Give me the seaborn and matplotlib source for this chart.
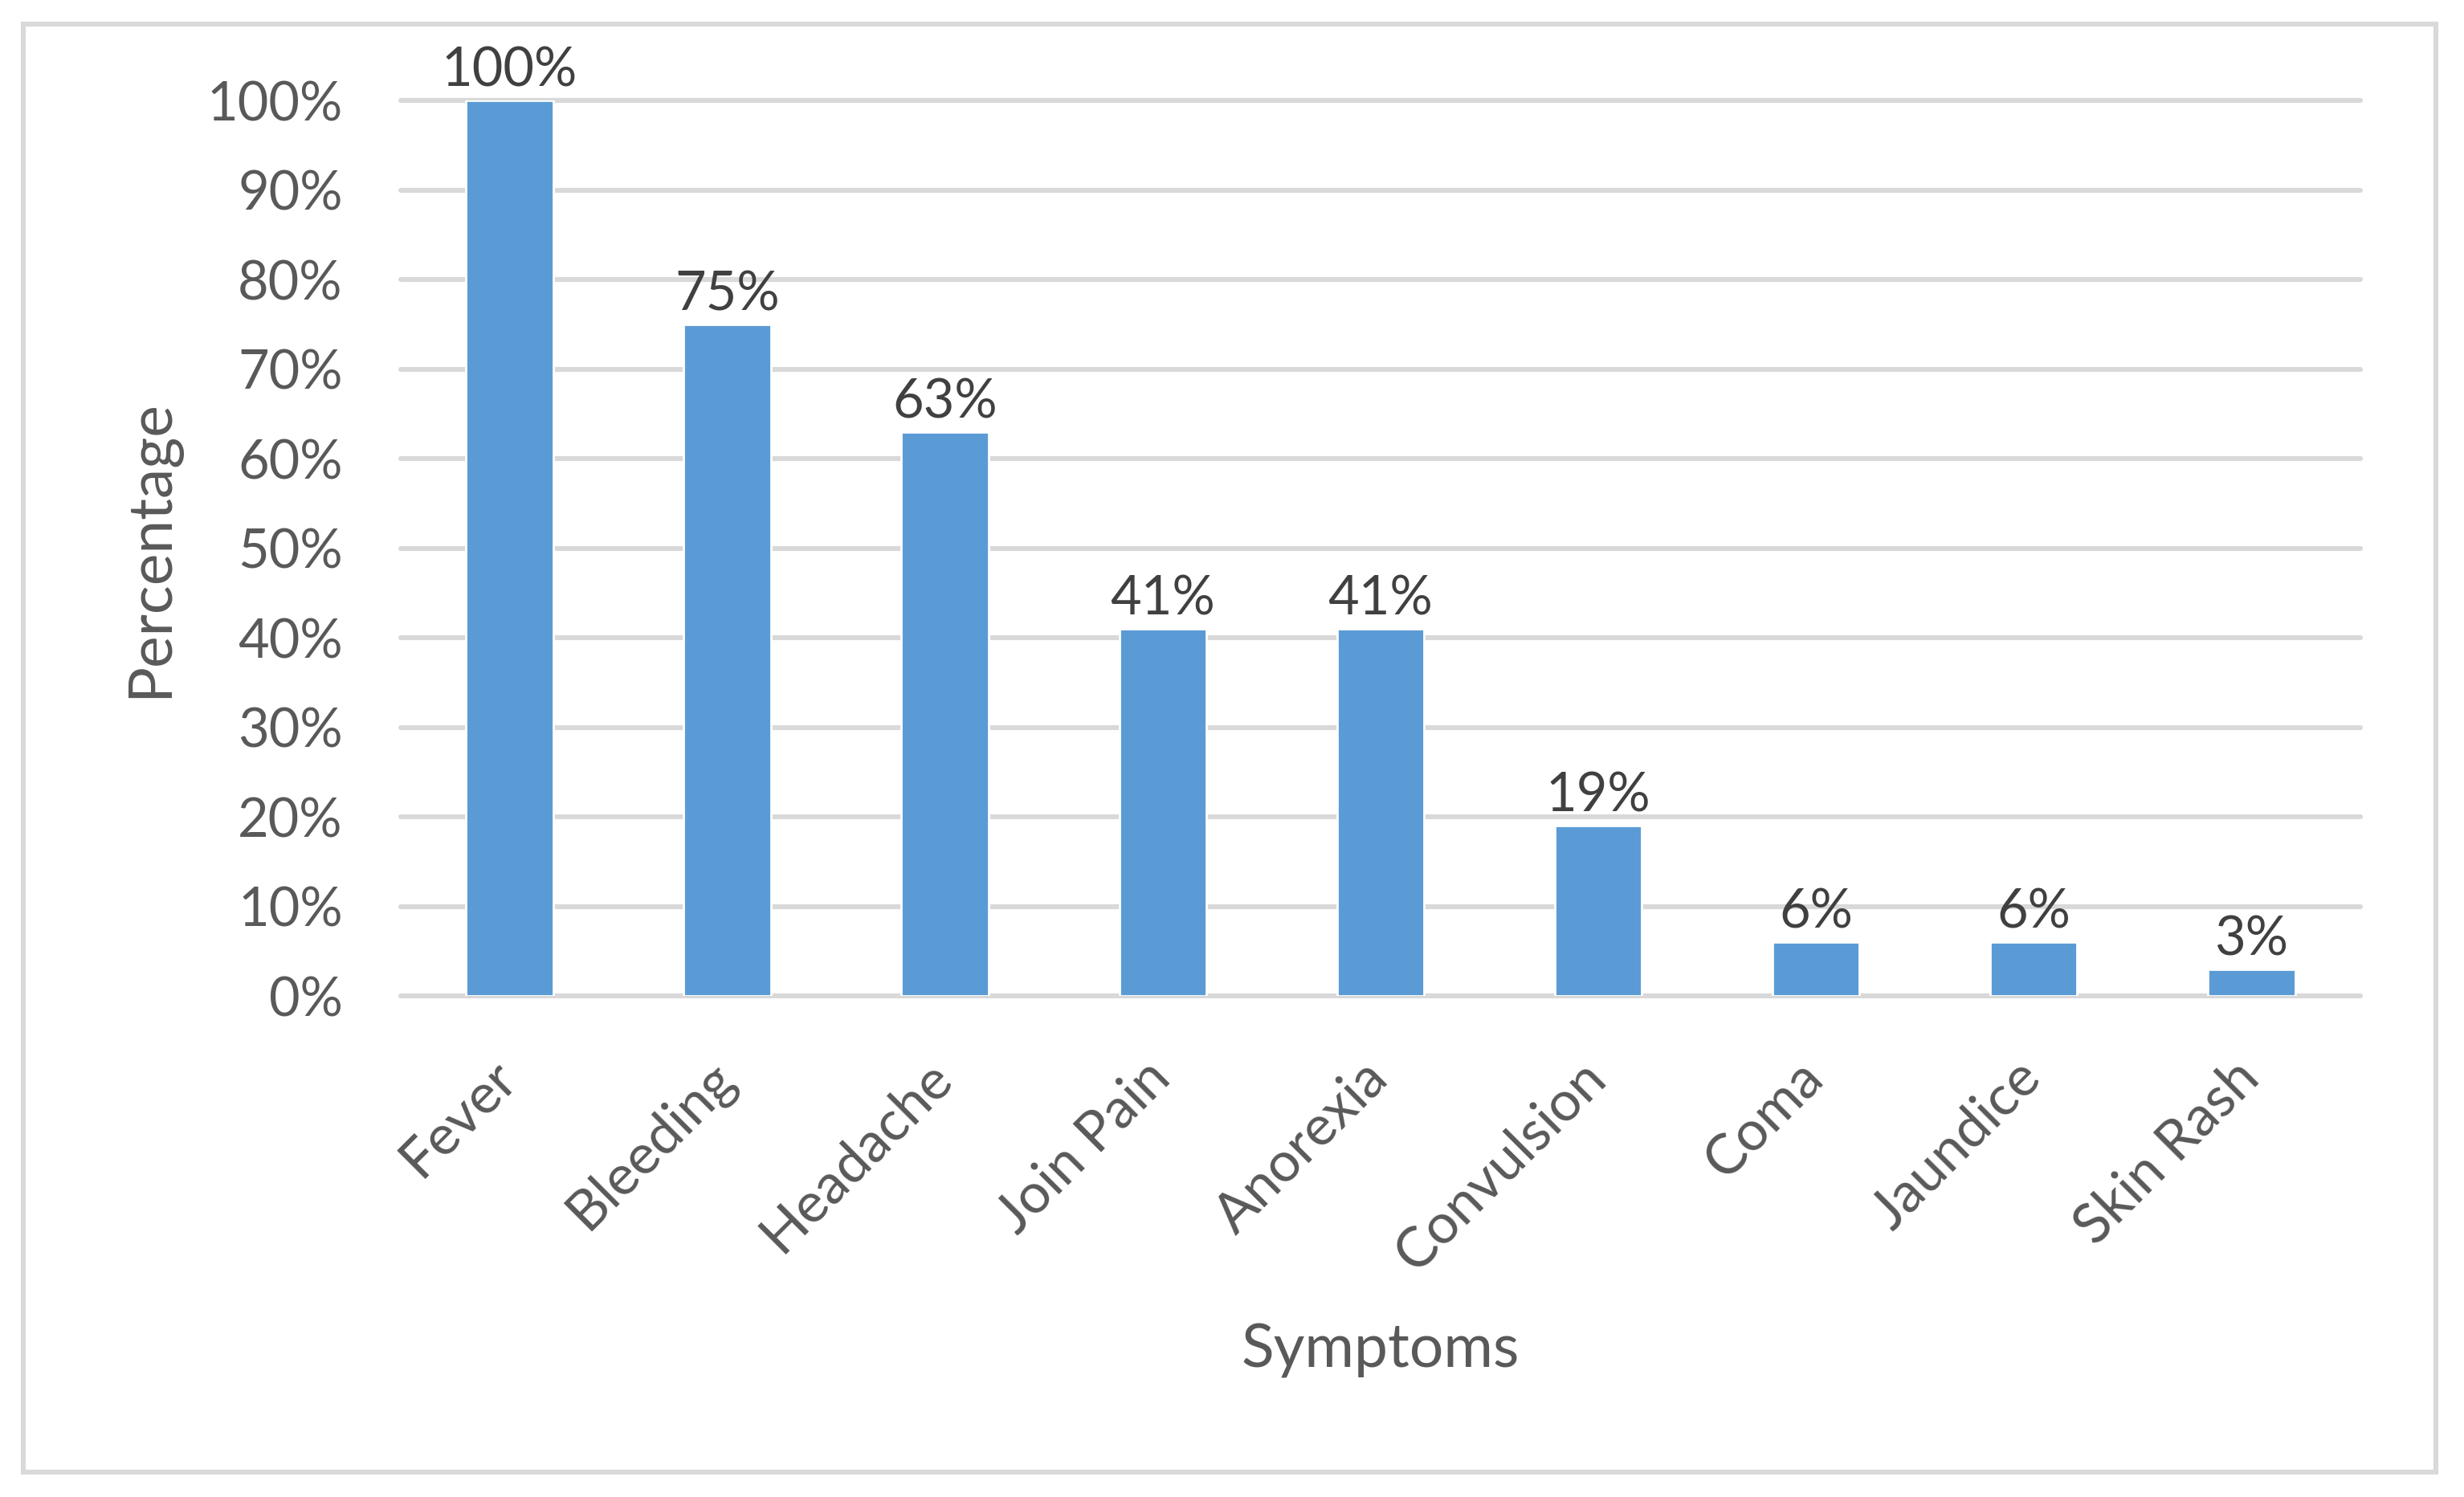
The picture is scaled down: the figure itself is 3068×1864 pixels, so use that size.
import matplotlib
matplotlib.use("Agg")
import matplotlib.pyplot as plt
import matplotlib.transforms as mtransforms
from matplotlib.patches import Rectangle
import seaborn as sns
import pandas as pd

# chart values
symptoms = ["Fever", "Bleeding", "Headache", "Join Pain", "Anorexia",
            "Convulsion", "Coma", "Jaundice", "Skin Rash"]
percent = [100, 75, 63, 41, 41, 19, 6, 6, 3]
y_ticks = [0, 10, 20, 30, 40, 50, 60, 70, 80, 90, 100]

df = pd.DataFrame({"Symptoms": symptoms, "Percentage": percent})

sns.set_style("white")
plt.rcParams["font.family"] = ["Lato", "DejaVu Sans"]

fig = plt.figure(figsize=(15.34, 9.32), dpi=200)
ax = fig.add_axes([0.1626, 0.3347, 0.7953, 0.5981])

sns.barplot(data=df, x="Symptoms", y="Percentage", color="#5B9BD5",
            width=0.40, saturation=1, ax=ax)

ax.set_ylim(0, 100)
ax.set_xlim(-0.5, len(symptoms) - 0.5)
ax.set_yticks(y_ticks)
ax.set_yticklabels([f"{v}%" for v in y_ticks])
ax.set_axisbelow(True)
ax.yaxis.grid(True, color="#D9D9D9", linewidth=2.2)
for gl in ax.get_ygridlines():
    gl.set_clip_on(False)
ax.xaxis.grid(False)
sns.despine(ax=ax, left=True, bottom=True)
ax.tick_params(axis="both", length=0, labelsize=24, labelcolor="#595959")
ax.tick_params(axis="y", pad=26)

# rotated category labels
ax.tick_params(axis="x", pad=0, labelsize=25)
offset = mtransforms.ScaledTranslation(-0.5 / 72, -33 / 72, fig.dpi_scale_trans)
for lbl in ax.get_xticklabels():
    lbl.set_rotation(45)
    lbl.set_ha("right")
    lbl.set_va("center")
    lbl.set_rotation_mode("anchor")
    lbl.set_transform(lbl.get_transform() + offset)

ax.bar_label(ax.containers[0], labels=[f"{v}%" for v in percent],
             padding=2, fontsize=24, color="#404040")

ax.set_xlabel("Symptoms", fontsize=27, color="#595959", va="center")
ax.set_ylabel("Percentage", fontsize=27, color="#595959", va="center")
ax.xaxis.set_label_coords(0.5, -0.396)
ax.yaxis.set_label_coords(-0.127, 0.5)

# outer chart border
fig.patches.append(Rectangle((0.0096, 0.0168), 0.979, 0.967,
                             transform=fig.transFigure, fill=False,
                             edgecolor="#D9D9D9", linewidth=2.2))

fig.savefig("out.png", dpi=200, facecolor="white")
